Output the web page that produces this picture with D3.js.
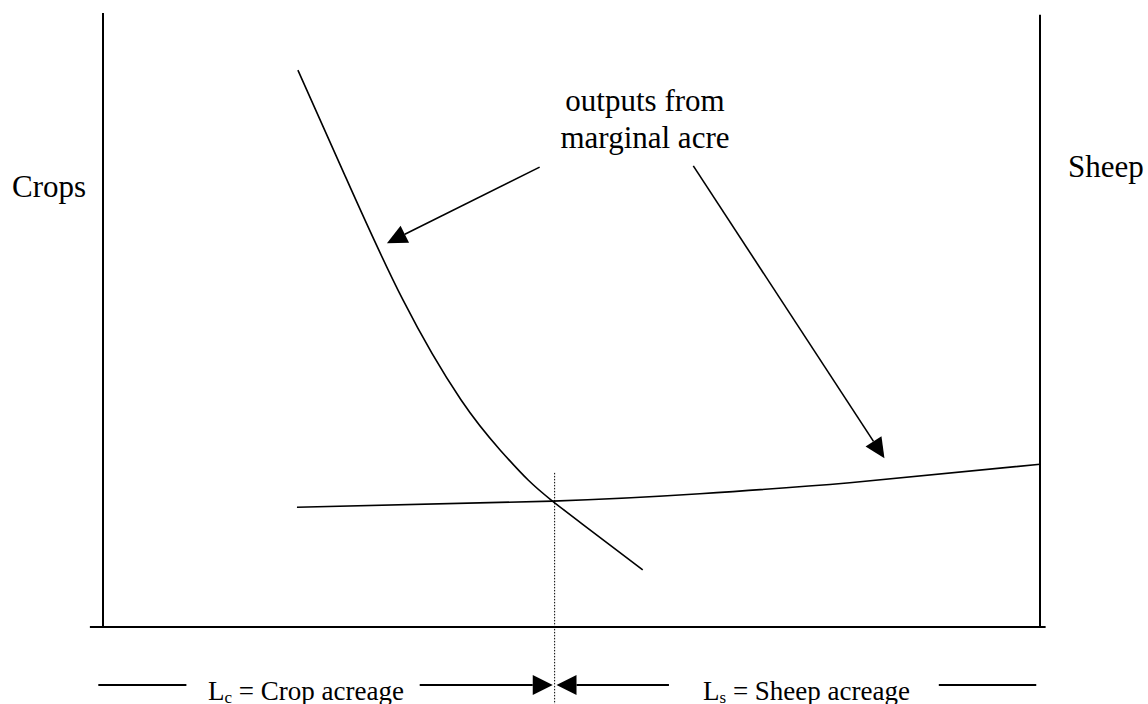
<!DOCTYPE html>
<html>
<head>
<meta charset="utf-8"/>
<title>Crops and sheep</title>
<style>
  body { margin: 0; background: #fff; }
  text { font-family: "Liberation Serif", "Times New Roman", serif; fill: #000; }
</style>
</head>
<body>
<svg id="chart" width="1148" height="704"></svg>
<script src="https://cdn.jsdelivr.net/npm/d3@7"></script>
<script>

// land split: 0 = left axis (all crops), 100 = right axis (all sheep)
var cropX = [20.8, 25.8, 32.0, 38.2, 42.4, 45.4, 47.9, 51.3, 57.6];
var cropY = [90.7, 73.6, 53.3, 37.0, 28.8, 23.9, 20.6, 16.6, 9.3];
var sheepX = [20.7, 48.0, 63.7, 79.7, 100];
var sheepY = [19.5, 20.5, 21.7, 23.5, 26.5];
var lc = 48.2;   // where the two curves cross

// annotation arrows (from label down to each curve)
var arrowFrom = [[46.6, 74.9], [63.0, 75.1]];
var arrowTo = [[30.3, 62.5], [83.4, 27.5]];
var noteLines = ["outputs from", "marginal acre"];

var svg = d3.select("#chart");
var x = d3.scaleLinear().domain([0, 100]).range([103, 1040]);
var y = d3.scaleLinear().domain([0, 100]).range([627, 13]);

// triangle head pointing from p0 towards tip p1
function head(p0, p1, len, half){
  var dx = p1[0] - p0[0], dy = p1[1] - p0[1];
  var d = Math.sqrt(dx*dx + dy*dy);
  var ux = dx/d, uy = dy/d;
  var bx = p1[0] - ux*len, by = p1[1] - uy*len;
  return [[p1[0], p1[1]], [bx - uy*half, by + ux*half], [bx + uy*half, by - ux*half]];
}

//axes:
svg.append("line").attr("x1", x(0)).attr("x2", x(0)).attr("y1", y(100)).attr("y2", y(0))
  .attr("stroke", "#000").attr("stroke-width", 2);
svg.append("line").attr("x1", x(100)).attr("x2", x(100)).attr("y1", y(99.7)).attr("y2", y(0))
  .attr("stroke", "#000").attr("stroke-width", 2);
svg.append("line").attr("x1", x(-1.4)).attr("x2", x(100.6)).attr("y1", y(0)).attr("y2", y(0))
  .attr("stroke", "#000").attr("stroke-width", 2);

//curves:
var line = d3.line().x(function(d){ return x(d[0]); }).y(function(d){ return y(d[1]); })
  .curve(d3.curveNatural);

svg.append("path").attr("d", line(d3.zip(cropX, cropY)))
  .attr("fill", "none").attr("stroke", "#000").attr("stroke-width", 1.6);
svg.append("path").attr("d", line(d3.zip(sheepX, sheepY)))
  .attr("fill", "none").attr("stroke", "#000").attr("stroke-width", 1.6);

//dotted divider:
svg.append("line").attr("x1", x(lc)).attr("x2", x(lc)).attr("y1", y(25.1)).attr("y2", 704)
  .attr("stroke", "#000").attr("stroke-width", 1).attr("stroke-dasharray", "1.5,1.5");

//annotation arrows:
arrowFrom.forEach(function(f, i){
  var p0 = [x(f[0]), y(f[1])];
  var p1 = [x(arrowTo[i][0]), y(arrowTo[i][1])];
  var h = head(p0, p1, 20, 9.5);
  var bx = (h[1][0] + h[2][0]) / 2, by = (h[1][1] + h[2][1]) / 2;
  svg.append("line").attr("x1", p0[0]).attr("y1", p0[1]).attr("x2", bx).attr("y2", by)
    .attr("stroke", "#000").attr("stroke-width", 1.6);
  svg.append("polygon").attr("points", h.map(function(p){ return p.join(","); }).join(" "))
    .attr("fill", "#000");
});

//labels:
svg.append("text").attr("x", 12).attr("y", 197).attr("font-size", 31).text("Crops");
svg.append("text").attr("x", 1068).attr("y", 177).attr("font-size", 31).text("Sheep");
svg.selectAll(".note").data(noteLines).enter().append("text")
  .attr("class", "note")
  .attr("x", 645).attr("y", function(d, i){ return 111 + i*37; })
  .attr("text-anchor", "middle").attr("font-size", 31)
  .text(function(d){ return d; });

//acreage measures under the axis:
var my = 685;
var segs = [[-0.5, 8.9], [33.8, lc - 0.2], [lc + 0.2, 60.4], [89.2, 99.6]];
segs.forEach(function(s, i){
  var a = x(s[0]), b = x(s[1]);
  if(i == 1){
    svg.append("polygon").attr("points", head([a, my], [b, my], 20, 10).map(function(p){ return p.join(","); }).join(" "))
      .attr("fill", "#000");
    b = b - 20;
  }
  if(i == 2){
    svg.append("polygon").attr("points", head([b, my], [a, my], 20, 10).map(function(p){ return p.join(","); }).join(" "))
      .attr("fill", "#000");
    a = a + 20;
  }
  svg.append("line").attr("x1", a).attr("x2", b).attr("y1", my).attr("y2", my)
    .attr("stroke", "#000").attr("stroke-width", 2);
});

function measureLabel(xpos, sub, rest){
  var t = svg.append("text").attr("x", xpos).attr("y", 700).attr("font-size", 27);
  t.append("tspan").text("L");
  t.append("tspan").attr("font-size", 17).attr("dy", 3).text(sub);
  t.append("tspan").attr("dy", -3).text(" = " + rest);
}
measureLabel(208, "c", "Crop acreage");
measureLabel(703, "s", "Sheep acreage");

</script>
</body>
</html>
